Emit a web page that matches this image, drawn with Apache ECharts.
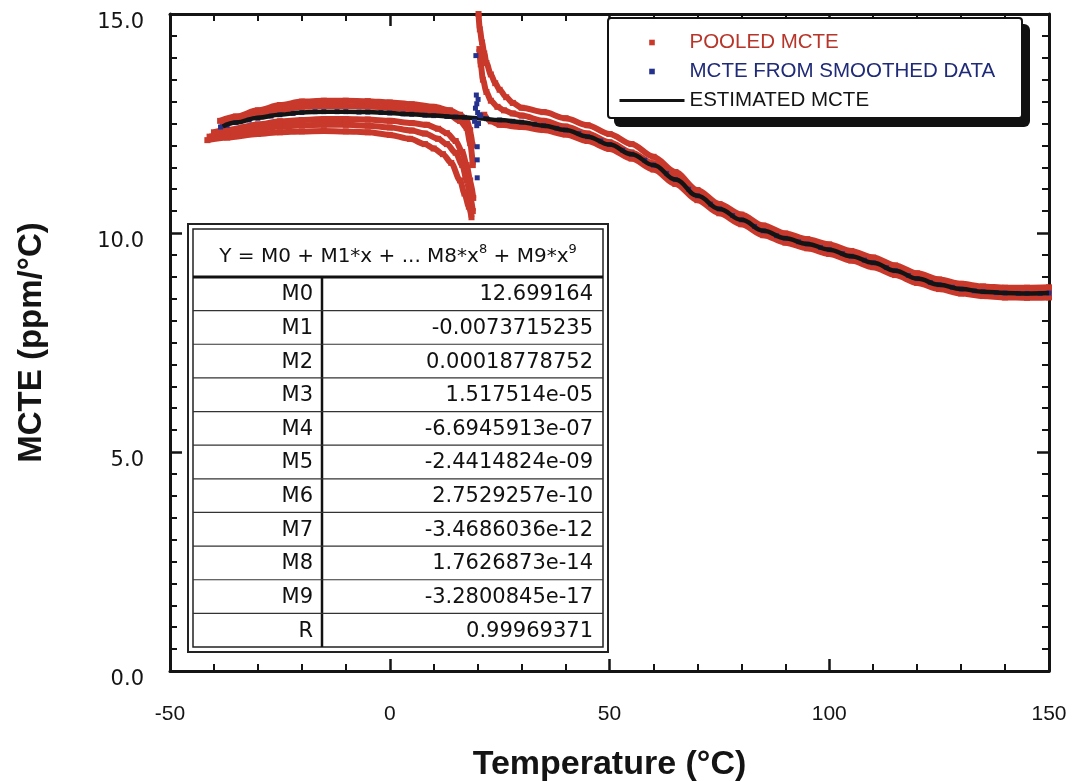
<!DOCTYPE html>
<html><head><meta charset="utf-8">
<script src="https://cdn.jsdelivr.net/npm/echarts@6/dist/echarts.min.js"></script>
<style>html,body{margin:0;padding:0;background:#fff}#c{width:1077px;height:781px}</style>
</head><body><div id="c"></div>
<script>
// ---------------- DATA ----------------
// Pooled MCTE (red) – several measurement runs, [temperature °C, MCTE ppm/°C]
const pooledUpper1 = [[-38.6,12.56],[-35,12.66],[-30,12.8],[-25,12.92],[-20,13.0],[-15,13.02],[-10,13.02],[-5,13.01],[0,12.98],[5,12.94],[10,12.88],[13.7,12.8],[16,12.7],[17.5,12.58],[18.3,12.35],[18.8,12.0]];
const pooledUpper2 = [[-38,12.45],[-35,12.55],[-30,12.68],[-25,12.8],[-20,12.88],[-15,12.9],[-10,12.9],[-5,12.89],[0,12.86],[5,12.82],[10,12.76],[13.7,12.68],[16,12.56],[17.5,12.4],[18.3,12.05],[18.9,11.55]];
const pooledLower1 = [[-40,12.3],[-37,12.35],[-30,12.48],[-25,12.55],[-20,12.58],[-15,12.6],[-10,12.6],[-5,12.59],[0,12.56],[5,12.51],[8.4,12.47],[11,12.38],[13,12.28],[15,12.1],[16.5,11.85],[17.5,11.55],[18.3,11.2],[19,10.8]];
const pooledLower2 = [[-41,12.2],[-37,12.26],[-30,12.37],[-25,12.43],[-20,12.46],[-15,12.47],[-10,12.47],[-5,12.45],[0,12.41],[5,12.34],[8,12.27],[11,12.15],[13,12.03],[15,11.83],[16.5,11.55],[17.5,11.2],[18.3,10.85],[18.9,10.5]];
const pooledLower3 = [[-41.5,12.12],[-37,12.18],[-30,12.26],[-25,12.3],[-20,12.32],[-15,12.33],[-10,12.32],[-5,12.3],[0,12.24],[4.6,12.15],[8,12.03],[10,11.93],[12.1,11.8],[14,11.6],[16,11.2],[17,10.9],[18,10.6],[18.6,10.36]];
const pooledHotUpper = [[20.2,15.0],[20.5,14.65],[21,14.35],[21.5,14.1],[22,13.88],[23,13.62],[24,13.42],[25,13.27],[26.5,13.1],[28,12.97],[30,12.86],[35,12.76],[40,12.62],[45,12.46],[50,12.26],[55,12.03],[60,11.74],[65,11.39],[70,10.98],[75,10.66],[80,10.42],[85,10.17],[90,9.99],[95,9.86],[100,9.74],[105,9.59],[110,9.44],[115,9.26],[120,9.08],[125,8.94],[130,8.84],[135,8.78],[140,8.75],[145,8.75],[150,8.76]];
const pooledHotMid = [[20.4,14.2],[20.7,13.85],[21.2,13.5],[22,13.22],[23,13.02],[24.5,12.88],[26,12.8],[28,12.73],[30,12.68],[35,12.56],[40,12.43],[45,12.27],[50,12.07],[55,11.84],[60,11.59],[65,11.26],[70,10.88],[75,10.58],[80,10.33],[85,10.08],[90,9.91],[95,9.78],[100,9.65],[105,9.5],[110,9.35],[115,9.17],[120,8.99],[125,8.85],[130,8.75],[135,8.69],[140,8.66],[145,8.65],[150,8.66]];
const pooledHotLower = [[21.5,12.7],[23,12.55],[25,12.47],[30,12.42],[35,12.35],[40,12.25],[45,12.1],[50,11.92],[55,11.7],[60,11.45],[65,11.12],[70,10.75],[75,10.45],[80,10.2],[85,9.95],[90,9.78],[95,9.65],[100,9.52],[105,9.37],[110,9.22],[115,9.04],[120,8.86],[125,8.72],[130,8.62],[135,8.56],[140,8.53],[145,8.52],[150,8.53]];

// MCTE from smoothed data (blue)
const smoothedMain = [[-38.5,12.42],[-37,12.46],[-35,12.52],[-32,12.58],[-30,12.62],[-27,12.67],[-25,12.7],[-22,12.73],[-20,12.75],[-17,12.77],[-15,12.77],[-12,12.77],[-10,12.77],[-7,12.76],[-5,12.76],[-2,12.75],[0,12.74],[3,12.72],[5,12.71],[8,12.69],[10,12.68],[13,12.66],[15,12.65],[17,12.64],[22,12.61],[25,12.58],[28,12.55],[30,12.53],[33,12.48],[35,12.45],[38,12.39],[40,12.35],[43,12.27],[45,12.2],[48,12.1],[50,12.02],[53,11.89],[55,11.8],[58,11.66],[60,11.55],[63,11.36],[65,11.22],[68,11.0],[70,10.85],[73,10.66],[75,10.55],[78,10.4],[80,10.3],[83,10.15],[85,10.05],[88,9.94],[90,9.88],[93,9.8],[95,9.75],[98,9.67],[100,9.62],[103,9.53],[105,9.47],[108,9.38],[110,9.32],[113,9.21],[115,9.14],[118,9.03],[120,8.96],[123,8.87],[125,8.82],[128,8.76],[130,8.72],[133,8.68],[135,8.66],[138,8.64],[140,8.63],[143,8.62],[145,8.62],[148,8.62],[150,8.63]];
const smoothedSpike = [[19.3,12.55],[19.5,12.85],[19.6,14.05],[19.7,13.15],[19.8,12.95],[19.8,12.45],[19.9,11.97],[19.9,11.67],[19.9,11.26],[20.0,12.75],[20.1,13.05],[20.2,12.5],[20.4,12.7],[20.7,12.68]];

// Estimated MCTE (black line)
const estTemp = [-38,-35,-30,-25,-20,-15,-10,-5,0,5,10,15,20,25,30,35,40,45,50,55,60,65,70,75,80,85,90,95,100,105,110,115,120,125,130,135,140,145,150];
const estMcte = [12.43,12.52,12.63,12.7,12.75,12.77,12.77,12.76,12.74,12.71,12.68,12.65,12.62,12.58,12.53,12.45,12.35,12.2,12.02,11.8,11.55,11.22,10.85,10.55,10.3,10.05,9.88,9.75,9.62,9.47,9.32,9.14,8.96,8.82,8.72,8.66,8.63,8.62,8.63];

// Fit table
const tableHeader = '{a|Y = M0 + M1*x + ... M8*x}{s|8}{a| + M9*x}{s|9}';
const tableLabels = ['M0','M1','M2','M3','M4','M5','M6','M7','M8','M9','R'];
const tableValues = ['12.699164','-0.0073715235','0.00018778752','1.517514e-05','-6.6945913e-07','-2.4414824e-09','2.7529257e-10','-3.4686036e-12','1.7626873e-14','-3.2800845e-17','0.99969371'];

// ---------------- CHART ----------------
const RED = '#c9392b', BLUE = '#24328d', INK = '#141414';
const chart = echarts.init(document.getElementById('c'), null, {renderer:'canvas'});

const axisLineCommon = {show:true, onZero:false, lineStyle:{color:INK, width:3}};
const tickCommon = {show:true, inside:true, length:12, lineStyle:{color:INK, width:2.5}};
function minor(n){ return {show:true, splitNumber:n, length:7, lineStyle:{color:INK, width:2}}; }

const redCurves = [pooledUpper1,pooledUpper2,pooledLower1,pooledLower2,pooledLower3,pooledHotUpper,pooledHotMid,pooledHotLower];
const series = [];
redCurves.forEach(d => series.push({
  type:'line', name:'POOLED MCTE', data:d, smooth:0.3, smoothMonotone:'x',
  symbol:'rect', symbolSize:6, showAllSymbol:true,
  lineStyle:{width:6, color:RED}, itemStyle:{color:RED}, z:2, clip:true, silent:true
}));
series.push({
  type:'line', name:'MCTE FROM SMOOTHED DATA', data:smoothedMain,
  symbol:'rect', symbolSize:5, showAllSymbol:true,
  lineStyle:{width:0, opacity:0, color:BLUE}, itemStyle:{color:BLUE}, z:3, silent:true
});
series.push({
  type:'line', name:'ESTIMATED MCTE', data:estTemp.map((t,i)=>[t,estMcte[i]]),
  smooth:0.4, smoothMonotone:'x', symbol:'none', showSymbol:false,
  lineStyle:{width:4.5, color:INK}, itemStyle:{color:INK}, z:4, silent:true
});
series.push({
  type:'line', name:'MCTE FROM SMOOTHED DATA', data:smoothedSpike,
  symbol:'rect', symbolSize:5, showAllSymbol:true,
  lineStyle:{width:0, opacity:0, color:BLUE}, itemStyle:{color:BLUE}, z:5, silent:true
});

// graphic: legend frame + fit table
const g = [];
g.push({type:'rect', shape:{x:614,y:24,width:416,height:103,r:6}, style:{fill:'#111'}, z:18});
g.push({type:'rect', shape:{x:608,y:18,width:414,height:100,r:3}, style:{fill:'#fff', stroke:'#111', lineWidth:2}, z:19});

const TX0 = 193, TX1 = 603, TY0 = 229, THB = 277, TY1 = 647, TCOL = 322;
const rowH = (TY1 - THB) / tableLabels.length;
const tFont = 'DejaVu Sans';
g.push({type:'rect', shape:{x:188,y:224,width:420,height:428}, style:{fill:'#fff', stroke:'#222', lineWidth:2}, z:10});
g.push({type:'rect', shape:{x:TX0,y:TY0,width:TX1-TX0,height:TY1-TY0}, style:{fill:'#fff', stroke:'#222', lineWidth:1.5}, z:10});
g.push({type:'line', shape:{x1:TX0,y1:THB,x2:TX1,y2:THB}, style:{stroke:'#111', lineWidth:3}, z:11});
g.push({type:'line', shape:{x1:TCOL,y1:THB,x2:TCOL,y2:TY1}, style:{stroke:'#111', lineWidth:2.5}, z:11});
for (let i=1;i<tableLabels.length;i++){
  const y = THB + i*rowH;
  g.push({type:'line', shape:{x1:TX0,y1:y,x2:TX1,y2:y}, style:{stroke:'#333', lineWidth:1.2}, z:11});
}
g.push({type:'text', x:(TX0+TX1)/2, y:(TY0+THB)/2+4, z:12, style:{
  text:tableHeader, align:'center', verticalAlign:'middle', textAlign:'center', textVerticalAlign:'middle',
  rich:{a:{fontFamily:tFont, fontSize:20, fill:'#111', lineHeight:28}, s:{fontFamily:tFont, fontSize:13, fill:'#111', verticalAlign:'top', lineHeight:14}}
}});
tableLabels.forEach((lab,i)=>{
  const yc = THB + (i+0.5)*rowH + 1;
  g.push({type:'text', x:TCOL-9, y:yc, z:12, style:{text:lab, fontFamily:tFont, fontSize:21, fill:'#111', align:'right', verticalAlign:'middle', textAlign:'right', textVerticalAlign:'middle', font:'21px "DejaVu Sans"'}});
  g.push({type:'text', x:TX1-10, y:yc, z:12, style:{text:tableValues[i], fontFamily:tFont, fontSize:21, fill:'#111', align:'right', verticalAlign:'middle', textAlign:'right', textVerticalAlign:'middle', font:'21px "DejaVu Sans"'}});
});

chart.setOption({
  animation:false,
  backgroundColor:'#fff',
  grid:{left:170, right:28, top:14, bottom:110, containLabel:false, outerBoundsMode:'none'},
  legend:{
    orient:'vertical', left:608, top:19, z:20,
    padding:[13,20,8,10], itemGap:8, itemWidth:65, itemHeight:7,
    textStyle:{fontFamily:'Liberation Sans, Arial', fontSize:20.5, color:INK},
    selectedMode:false,
    data:[
      {name:'POOLED MCTE', textStyle:{color:'#b8352a'}, lineStyle:{opacity:0, width:0}},
      {name:'MCTE FROM SMOOTHED DATA', textStyle:{color:'#1f2a78'}, lineStyle:{opacity:0, width:0}},
      {name:'ESTIMATED MCTE', textStyle:{color:INK}, lineStyle:{width:3, color:INK}, itemStyle:{opacity:0}}
    ]
  },
  xAxis:[
    {type:'value', min:-50, max:150, interval:50, position:'bottom',
     axisLine:axisLineCommon, axisTick:tickCommon, minorTick:minor(5), splitLine:{show:false},
     axisLabel:{margin:33, fontSize:21, color:INK, fontFamily:'Liberation Sans, Arial', showMinLabel:true, showMaxLabel:true},
     name:'Temperature (°C)', nameLocation:'middle', nameGap:77,
     nameTextStyle:{fontSize:34, fontWeight:'bold', fontFamily:'Liberation Sans, Arial', color:INK}},
    {type:'value', min:-50, max:150, interval:50, position:'top',
     axisLine:axisLineCommon, axisTick:tickCommon, minorTick:minor(5), splitLine:{show:false},
     axisLabel:{show:false}}
  ],
  yAxis:[
    {type:'value', min:0, max:15, interval:5, position:'left',
     axisLine:axisLineCommon, axisTick:tickCommon, minorTick:minor(10), splitLine:{show:false},
     axisLabel:{margin:26, fontSize:21, color:INK, fontFamily:'DejaVu Sans', verticalAlign:'top', lineHeight:18,
       formatter:v=>v.toFixed(1)},
     name:'MCTE (ppm/°C)', nameLocation:'middle', nameGap:122,
     nameTextStyle:{fontSize:33, fontWeight:'bold', fontFamily:'Liberation Sans, Arial', color:INK}},
    {type:'value', min:0, max:15, interval:5, position:'right',
     axisLine:axisLineCommon, axisTick:tickCommon, minorTick:minor(10), splitLine:{show:false},
     axisLabel:{show:false}}
  ],
  graphic:{elements:g},
  series:series
});
</script></body></html>
